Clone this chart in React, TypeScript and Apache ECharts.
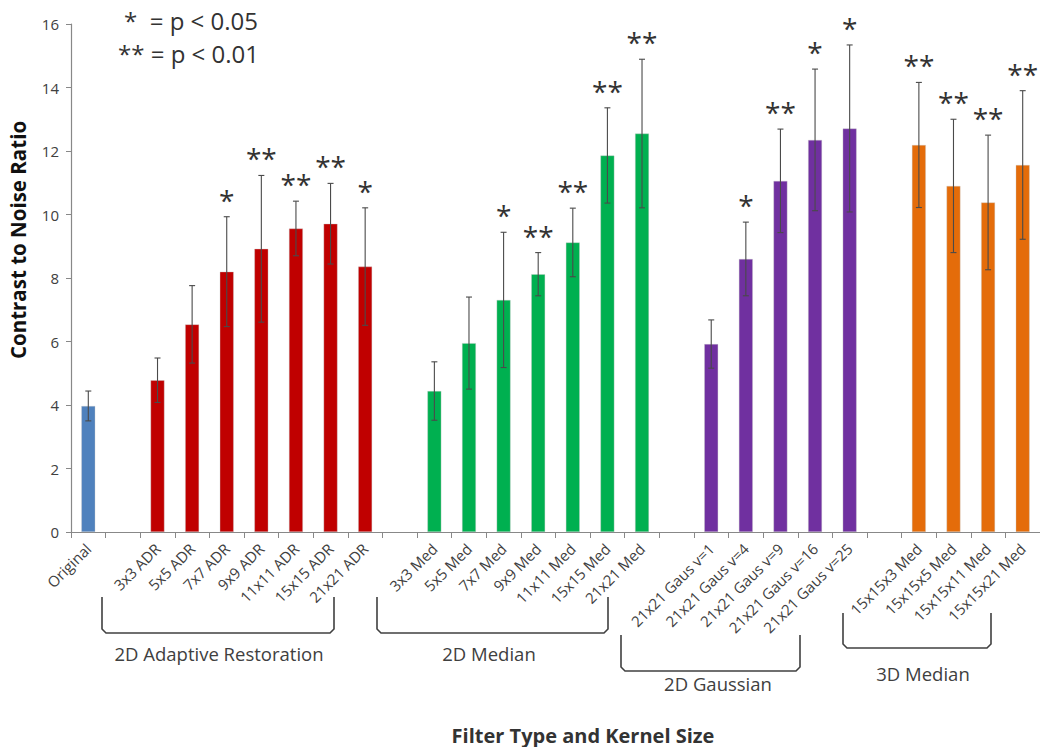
import React, { useEffect, useRef } from "react";
import * as echarts from "echarts";

const categories = [
  "Original", "",
  "3x3 ADR", "5x5 ADR", "7x7 ADR", "9x9 ADR", "11x11 ADR", "15x15 ADR", "21x21 ADR", "",
  "3x3 Med", "5x5 Med", "7x7 Med", "9x9 Med", "11x11 Med", "15x15 Med", "21x21 Med", "",
  "21x21 Gaus v=1", "21x21 Gaus v=4", "21x21 Gaus v=9", "21x21 Gaus v=16", "21x21 Gaus v=25", "",
  "15x15x3 Med", "15x15x5 Med", "15x15x11 Med", "15x15x21 Med",
];

const means = [
  3.97, null,
  4.78, 6.54, 8.2, 8.92, 9.56, 9.71, 8.36, null,
  4.44, 5.95, 7.31, 8.12, 9.12, 11.86, 12.55, null,
  5.92, 8.6, 11.06, 12.35, 12.71, null,
  12.19, 10.9, 10.38, 11.56,
];

const errors = [
  0.47, null,
  0.7, 1.22, 1.73, 2.31, 0.86, 1.27, 1.85, null,
  0.92, 1.45, 2.13, 0.68, 1.08, 1.5, 2.34, null,
  0.76, 1.16, 1.63, 2.23, 2.63, null,
  1.97, 2.1, 2.12, 2.34,
];

const significance = [
  "", "",
  "", "", "*", "**", "**", "**", "*", "",
  "", "", "*", "**", "**", "**", "**", "",
  "", "*", "**", "*", "*", "",
  "**", "**", "**", "**",
];

const groupOf = [
  "orig", "",
  "adr", "adr", "adr", "adr", "adr", "adr", "adr", "",
  "med", "med", "med", "med", "med", "med", "med", "",
  "gaus", "gaus", "gaus", "gaus", "gaus", "",
  "med3d", "med3d", "med3d", "med3d",
];

const groupColors: Record<string, string> = {
  orig: "#4F81BD",
  adr: "#C00000",
  med: "#00B050",
  gaus: "#7030A0",
  med3d: "#E46C0A",
};

const yTicks = { min: 0, max: 16, interval: 2 };

const FONT = "'Open Sans', sans-serif";
const TEXT = "#404040";

export default function App() {
  const ref = useRef<HTMLDivElement>(null);

  useEffect(() => {
    if (!ref.current) return;
    const chart = echarts.init(ref.current, null, { renderer: "svg" });

    const barData = means.map((v, i) =>
      v == null
        ? null
        : { value: v, itemStyle: { color: groupColors[groupOf[i]] } }
    );
    const errData = means
      .map((v, i) => (v == null ? null : [i, v, errors[i] as number]))
      .filter((d) => d != null);

    const bracket = (x0: number, x1: number, top: number, bot: number) => ({
      type: "polyline",
      shape: {
        points: [
          [x0, top], [x0, bot - 4], [x0 + 4, bot], [x1 - 4, bot], [x1, bot - 4], [x1, top],
        ],
      },
      style: { stroke: "#404040", lineWidth: 1.6, fill: null },
      silent: true,
    });
    const groupLabel = (x: number, y: number, text: string) => ({
      type: "text",
      x, y,
      style: {
        text, fill: TEXT, font: `18.5px ${FONT}`, align: "center", verticalAlign: "middle",
      },
      silent: true,
    });

    chart.setOption({
      animation: false,
      grid: { left: 71, right: -7, top: 24, bottom: 215, containLabel: false },
      xAxis: {
        type: "category",
        data: categories,
        axisLine: { lineStyle: { color: "#888", width: 1.2 } },
        axisTick: { show: true, interval: 0, length: 6, lineStyle: { color: "#888" } },
        axisLabel: {
          interval: 0, rotate: 45, color: TEXT, fontFamily: FONT, fontSize: 15, margin: 14,
        },
      },
      yAxis: {
        type: "value",
        min: yTicks.min,
        max: yTicks.max,
        interval: yTicks.interval,
        splitLine: { show: false },
        axisLine: { show: true, lineStyle: { color: "#888", width: 1.2 } },
        axisTick: { show: true, length: 5, lineStyle: { color: "#888" } },
        axisLabel: { color: TEXT, fontFamily: FONT, fontSize: 15, margin: 12 },
      },
      series: [
        {
          type: "bar",
          data: barData,
          barWidth: 14,
          itemStyle: { borderColor: "rgba(200,200,200,0.6)", borderWidth: 0.6 },
        },
        {
          type: "custom",
          data: errData,
          z: 5,
          renderItem: (params: any, api: any) => {
            const i = api.value(0);
            const v = api.value(1);
            const e = api.value(2);
            const top = api.coord([i, v + e]);
            const bot = api.coord([i, v - e]);
            const hw = 3;
            const ls = { stroke: "#4a4a4a", lineWidth: 1.1 };
            const children: any[] = [
              { type: "line", shape: { x1: top[0], y1: top[1], x2: bot[0], y2: bot[1] }, style: ls },
              { type: "line", shape: { x1: top[0] - hw, y1: top[1], x2: top[0] + hw, y2: top[1] }, style: ls },
              { type: "line", shape: { x1: bot[0] - hw, y1: bot[1], x2: bot[0] + hw, y2: bot[1] }, style: ls },
            ];
            const s = significance[i];
            if (s) {
              children.push({
                type: "text",
                x: top[0],
                y: top[1] - 3,
                style: {
                  text: s, fill: "#333", font: `28px ${FONT}`, align: "center", verticalAlign: "bottom",
                },
              });
            }
            return { type: "group", children };
          },
        },
      ],
      graphic: [
        {
          type: "text", x: 18, y: 240, rotation: Math.PI / 2,
          style: {
            text: "Contrast to Noise Ratio", fill: "#111", font: `bold 20.5px ${FONT}`,
            align: "center", verticalAlign: "middle",
          },
        },
        {
          type: "text", x: 583, y: 735,
          style: {
            text: "Filter Type and Kernel Size", fill: "#333", font: `bold 20px ${FONT}`,
            align: "center", verticalAlign: "middle",
          },
        },
        {
          type: "text", x: 124, y: 20,
          style: { text: "*  = p < 0.05", fill: "#333", font: `24px ${FONT}`, verticalAlign: "middle" },
        },
        {
          type: "text", x: 118, y: 53,
          style: { text: "** = p < 0.01", fill: "#333", font: `24px ${FONT}`, verticalAlign: "middle" },
        },
        bracket(102, 334, 597, 633),
        bracket(377, 608, 597, 633),
        bracket(621, 800, 635, 671),
        bracket(843, 991, 613, 648),
        groupLabel(219, 653, "2D Adaptive Restoration"),
        groupLabel(489, 653, "2D Median"),
        groupLabel(718, 683, "2D Gaussian"),
        groupLabel(923, 673, "3D Median"),
      ],
    });

    return () => chart.dispose();
  }, []);

  return (
    <div
      ref={ref}
      style={{ position: "absolute", left: 0, top: 0, width: 1040, height: 747, background: "#fff" }}
    />
  );
}
